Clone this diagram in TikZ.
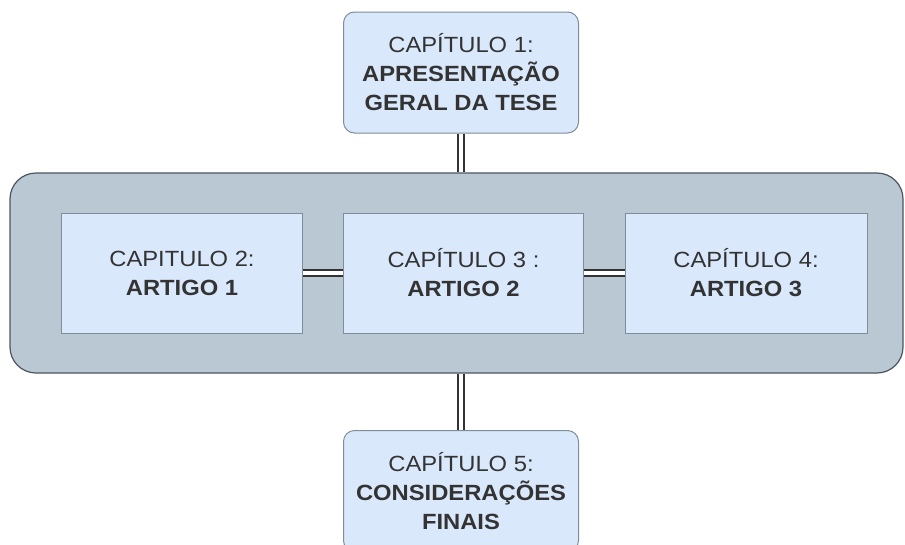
\documentclass[tikz,border=0pt]{standalone}
\usepackage{fontspec}
\setmainfont{Liberation Sans}[FakeStretch=1.08]
\definecolor{boxfill}{HTML}{DAE8FC}
\definecolor{boxline}{HTML}{7F8C99}
\definecolor{contfill}{HTML}{BAC8D3}
\definecolor{contline}{HTML}{4A5560}
\definecolor{txt}{HTML}{333333}
\tikzset{
  chap/.style={draw=boxline, fill=boxfill, line width=1pt, text=txt, align=center,
    font=\fontsize{22}{29}\selectfont, inner sep=0pt},
  roundchap/.style={chap, rounded corners=11pt},
  container/.style={draw=contline, fill=contfill, line width=1.2pt, rounded corners=26pt, inner sep=0pt},
  link/.style={draw=txt, line width=1.8pt, double=white, double distance=3.6pt}
}
\begin{document}
\begin{tikzpicture}[x=1pt,y=-1pt]
\useasboundingbox (0,0) rectangle (905,544);
\clip (0,0) rectangle (905,544);
\node[container, minimum width=893pt, minimum height=200pt] (cont) at (456.5,273) {};
\node[roundchap, minimum width=235pt, minimum height=121pt] (c1) at (461,72.5)
  {CAPÍTULO 1:\\\textbf{APRESENTAÇÃO}\\\textbf{GERAL DA TESE}};
\node[chap, minimum width=241pt, minimum height=120pt] (c2) at (182,273)
  {CAPITULO 2:\\\textbf{ARTIGO 1}};
\node[chap, minimum width=240pt, minimum height=120pt] (c3) at (463.5,273)
  {CAPÍTULO 3 :\\\textbf{ARTIGO 2}};
\node[chap, minimum width=242pt, minimum height=120pt] (c4) at (746,273)
  {CAPÍTULO 4:\\\textbf{ARTIGO 3}};
\node[roundchap, minimum width=235pt, minimum height=121pt, anchor=north] (c5) at (461,430)
  {CAPÍTULO 5:\\\textbf{CONSIDERAÇÕES}\\\textbf{FINAIS}};
\draw[link] (c1.south) -- (c1.south |- cont.north);
\draw[link] (c5.north |- cont.south) -- (c5.north);
\draw[link] (c2.east) -- (c3.west);
\draw[link] (c3.east) -- (c4.west);
\end{tikzpicture}
\end{document}
